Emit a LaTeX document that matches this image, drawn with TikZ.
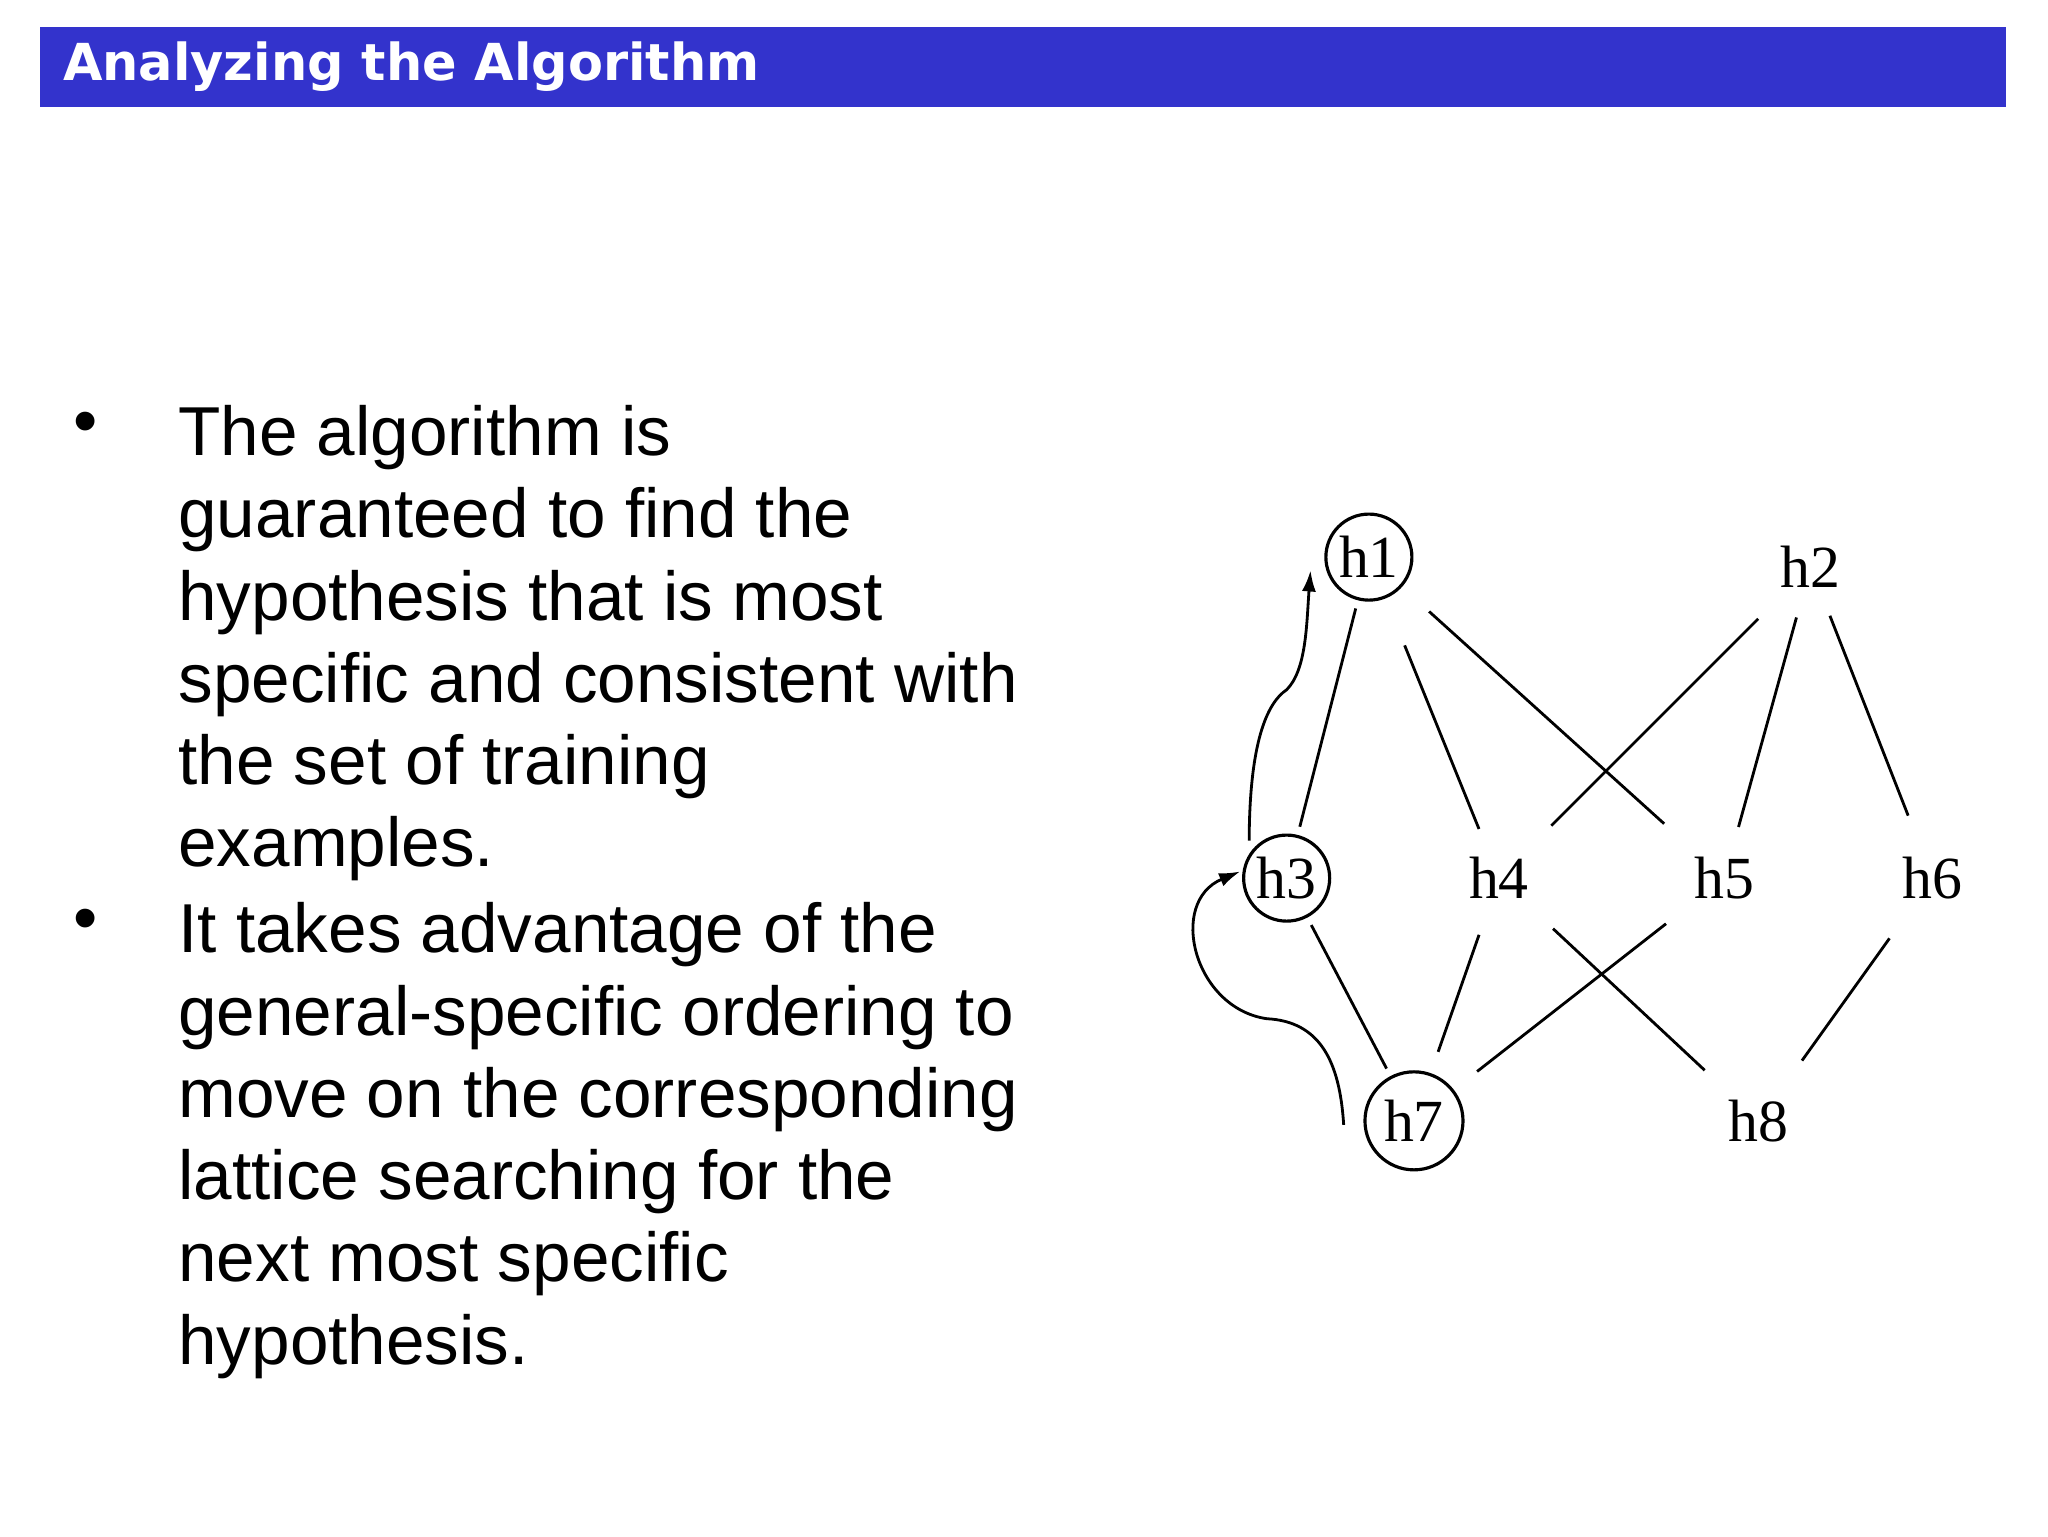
\documentclass[tikz,border=0pt]{standalone}
\usepackage{fontspec}
\setmainfont{Liberation Serif}
\newfontfamily\titlefont{DejaVu Sans}
\newfontfamily\bodyfont{Liberation Sans}
\usetikzlibrary{arrows.meta}
\definecolor{titleblue}{HTML}{3333CC}
\begin{document}
\begin{tikzpicture}[x=0.01326cm,y=-0.01326cm,
  hyp/.style={circle,inner sep=0pt,minimum size=0.86cm,outer sep=0.1cm,font=\fontsize{17}{17}\selectfont},
  hc/.style={hyp,draw,line width=0.9pt},
  edge/.style={line width=0.8pt},
  bul/.style={anchor=north west,align=left,inner sep=0pt,font=\bodyfont\fontsize{19.7}{23.4}\selectfont}]
\useasboundingbox[fill=white] (0,0) rectangle (1544,1158);
\fill[titleblue] (30,20) rectangle (1512,81);
\node[anchor=west,text=white,font=\titlefont\bfseries\fontsize{14.5}{16}\selectfont,inner sep=0pt] (title) at (47,50) {Analyzing the Algorithm};
\node[bul] (b1dot) at (55,310) {\textbullet};
\node[bul] (b1) at (134,305) {The algorithm is\\guaranteed to find the\\hypothesis that is most\\specific and consistent with\\the set of training\\examples.};
\node[bul] (b2dot) at (55,685) {\textbullet};
\node[bul] (b2) at (134,680) {It takes advantage of the\\general-specific ordering to\\move on the corresponding\\lattice searching for the\\next most specific\\hypothesis.};
\node[hc] (h1) at (1032,420) {h1};
\node[hyp] (h2) at (1365,427) {h2};
\node[hc] (h3) at (970,662) {h3};
\node[hyp] (h4) at (1130,662) {h4};
\node[hyp] (h5) at (1300,662) {h5};
\node[hyp] (h6) at (1457,662) {h6};
\node[hc,minimum size=0.98cm] (h7) at (1066,845) {h7};
\node[hyp] (h8) at (1326,845) {h8};
\draw[edge] (h1) -- (h3);
\draw[edge,shorten <=12pt] (h1) -- (h4);
\draw[edge,shorten <=8pt,shorten >=8pt] (h1) -- (h5);
\draw[edge,shorten <=6pt,shorten >=6pt] (h2) -- (h4);
\draw[edge] (h2) -- (h5);
\draw[edge,shorten >=4pt] (h2) -- (h6);
\draw[edge] (h3) -- (h7);
\draw[edge,shorten <=2pt,shorten >=4pt] (h4) -- (h7);
\draw[edge,shorten <=6pt,shorten >=6pt] (h5) -- (h7);
\draw[edge,shorten <=6pt,shorten >=6pt] (h4) -- (h8);
\draw[edge,shorten <=6pt,shorten >=6pt] (h6) -- (h8);
\draw[edge,-{Latex[length=6pt,width=4pt]}] (h3.north west) .. controls (942,560) and (955,530) .. (970,520) .. controls (985,505) and (985,470) .. (988,430);
\coordinate (c7) at (1013,848);
\draw[edge,-{Latex[length=6pt,width=4pt]}] (c7) .. controls (1010,800) and (995,770) .. (955,768) .. controls (900,760) and (880,680) .. (935,657);
\end{tikzpicture}
\end{document}
